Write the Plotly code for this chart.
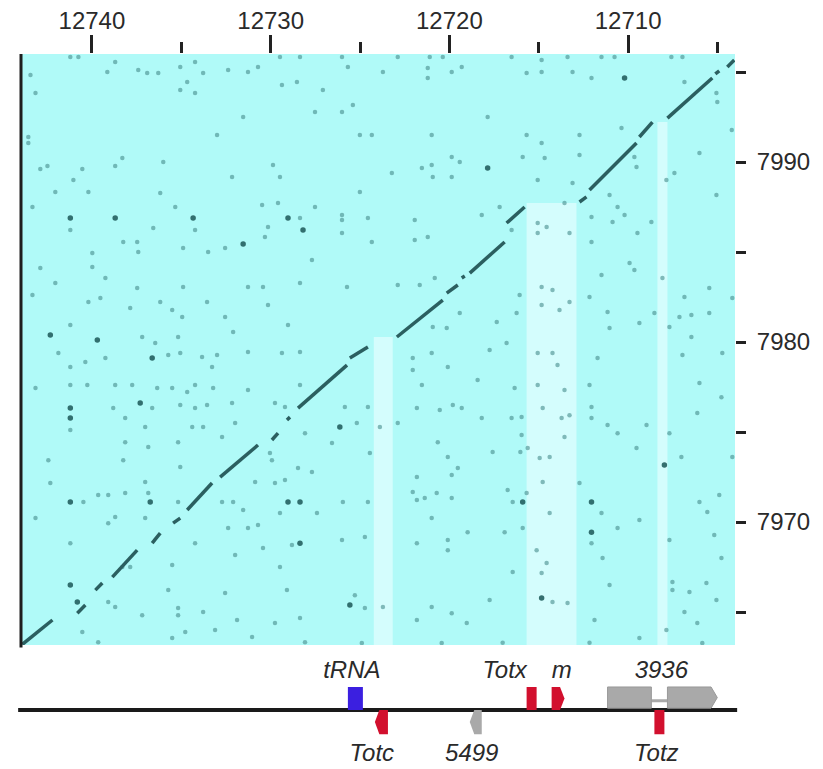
import plotly.graph_objects as go

# ---------------- data ----------------
x_ticks = [12740, 12730, 12720, 12710]
x_minor = [12735, 12725, 12715, 12705]
y_ticks = [7990, 7980, 7970]
y_minor = [7995, 7985, 7975, 7965]
x_range = [12743.97, 12704.02]
y_range = [7963.17, 7996.0]

# aligned (diagonal) segments: (x0, y0, x1, y1)
diag_segments = [
    (12743.90, 7963.20, 12742.21, 7964.56),
    (12740.82, 7964.94, 12740.37, 7965.39),
    (12739.81, 7966.22, 12739.42, 7966.61),
    (12738.86, 7966.94, 12737.47, 7968.44),
    (12736.63, 7968.83, 12736.18, 7969.39),
    (12735.46, 7969.94, 12735.06, 7970.22),
    (12734.67, 7970.67, 12733.28, 7972.17),
    (12732.83, 7972.50, 12730.71, 7974.28),
    (12729.93, 7974.56, 12729.59, 7974.94),
    (12729.09, 7975.67, 12728.92, 7975.83),
    (12728.47, 7976.33, 12725.73, 7978.72),
    (12725.57, 7979.11, 12724.56, 7979.72),
    (12722.94, 7980.28, 12720.37, 7982.33),
    (12720.15, 7982.72, 12719.53, 7983.17),
    (12719.31, 7983.56, 12719.14, 7983.67),
    (12718.86, 7983.83, 12716.91, 7985.56),
    (12716.80, 7986.61, 12715.79, 7987.50),
    (12712.72, 7987.78, 12712.33, 7988.06),
    (12712.16, 7988.44, 12709.53, 7991.06),
    (12709.37, 7991.39, 12708.64, 7992.22),
    (12707.80, 7992.44, 12705.29, 7994.67),
    (12705.12, 7994.89, 12704.90, 7995.06),
    (12704.45, 7995.28, 12704.06, 7995.67),
]

# strong isolated matches
dark_dots = [
    (12741.21, 7986.89), (12738.70, 7986.89), (12734.34, 7986.89), (12731.54, 7985.44),
    (12717.86, 7989.67), (12729.03, 7986.89), (12728.19, 7986.22), (12710.20, 7994.67),
    (12742.33, 7980.39), (12739.70, 7980.11), (12736.63, 7979.11), (12741.21, 7976.33),
    (12741.21, 7975.78), (12737.30, 7976.61), (12726.13, 7975.28), (12741.21, 7971.11),
    (12736.74, 7971.11), (12729.03, 7971.11), (12728.36, 7971.11), (12728.36, 7968.83),
    (12741.21, 7966.50), (12740.82, 7965.56), (12725.57, 7965.39), (12707.97, 7973.17),
    (12715.90, 7971.11), (12712.05, 7971.11), (12712.05, 7969.44), (12714.84, 7965.78),
]

# weak scattered matches
faint_dots = [
    (12741.21, 7995.83), (12740.76, 7995.83), (12738.70, 7995.56), (12739.14, 7995.00),
    (12737.41, 7995.11), (12736.91, 7994.94), (12736.29, 7994.94), (12735.06, 7995.28),
    (12734.23, 7995.56), (12733.78, 7994.94), (12734.67, 7994.44), (12735.06, 7994.00),
    (12734.23, 7993.83), (12732.38, 7995.11), (12731.27, 7995.00), (12730.71, 7995.28),
    (12743.16, 7993.83), (12743.44, 7994.83), (12731.54, 7992.50), (12733.00, 7991.50),
    (12743.56, 7991.39), (12743.56, 7991.06), (12738.30, 7990.22), (12738.70, 7989.78),
    (12742.49, 7989.78), (12742.89, 7989.61), (12740.54, 7989.61), (12741.04, 7989.00),
    (12736.01, 7990.00), (12732.16, 7989.17), (12742.05, 7988.33), (12740.20, 7988.33),
    (12736.18, 7988.28), (12735.34, 7987.50), (12743.33, 7987.50), (12741.21, 7986.22),
    (12736.57, 7986.33), (12734.23, 7986.22), (12730.48, 7987.61), (12730.15, 7986.39),
    (12730.32, 7985.83), (12738.25, 7985.56), (12737.47, 7985.56), (12739.98, 7984.94),
    (12737.41, 7985.00), (12734.90, 7985.22), (12733.50, 7985.00), (12732.55, 7985.22),
    (12742.89, 7984.11), (12739.98, 7984.17), (12739.25, 7983.56), (12742.05, 7983.28),
    (12737.47, 7983.00), (12734.90, 7983.06), (12731.27, 7983.06), (12730.43, 7983.06),
    (12743.33, 7982.61), (12740.20, 7982.22), (12739.53, 7982.44), (12736.18, 7982.22),
    (12733.56, 7982.22),
    (12729.48, 7995.83), (12728.36, 7995.83), (12726.01, 7995.83), (12725.68, 7995.28),
    (12722.89, 7995.83), (12721.10, 7995.83), (12720.37, 7995.83), (12716.52, 7995.83),
    (12723.72, 7995.00), (12721.21, 7995.22), (12719.87, 7995.00), (12719.31, 7995.28),
    (12715.68, 7994.94), (12729.37, 7994.28), (12728.53, 7994.44), (12727.08, 7994.00),
    (12721.21, 7994.67), (12727.52, 7992.78), (12726.01, 7992.78), (12725.40, 7993.17),
    (12717.86, 7992.50), (12725.01, 7991.50), (12724.34, 7991.50), (12720.99, 7991.50),
    (12715.68, 7991.50), (12729.87, 7989.83), (12729.48, 7989.17), (12723.22, 7989.39),
    (12721.54, 7989.67), (12720.99, 7989.83), (12719.87, 7990.28), (12719.42, 7990.00),
    (12720.93, 7989.17), (12719.87, 7989.17), (12715.90, 7990.28), (12725.01, 7988.33),
    (12729.59, 7987.72), (12727.52, 7987.50), (12728.36, 7986.89), (12726.01, 7987.06),
    (12726.01, 7986.78), (12724.56, 7986.89), (12721.94, 7986.78), (12718.19, 7987.06),
    (12717.19, 7987.50), (12726.01, 7986.06), (12724.34, 7985.56), (12721.94, 7985.67),
    (12721.21, 7985.83), (12716.52, 7986.22), (12727.69, 7984.56), (12728.36, 7983.28),
    (12725.73, 7983.06), (12722.89, 7983.17), (12721.66, 7983.17), (12720.82, 7983.56),
    (12716.07, 7982.61),
    (12714.84, 7995.67), (12714.84, 7995.00), (12713.39, 7995.83), (12711.49, 7995.83),
    (12710.76, 7995.83), (12707.58, 7995.83), (12706.96, 7995.83), (12713.11, 7995.00),
    (12712.05, 7994.67), (12706.85, 7994.44), (12705.06, 7993.83), (12705.01, 7993.33),
    (12712.72, 7991.50), (12710.37, 7991.89), (12714.84, 7991.06), (12714.67, 7990.22),
    (12712.72, 7990.39), (12709.65, 7990.28), (12709.53, 7989.72), (12706.01, 7990.50),
    (12704.20, 7991.78), (12715.06, 7989.00), (12713.11, 7988.83), (12707.41, 7989.39),
    (12707.86, 7989.00), (12711.04, 7988.17), (12713.56, 7987.72), (12705.06, 7988.17),
    (12712.05, 7986.94), (12710.59, 7987.50), (12710.20, 7987.06), (12710.87, 7986.67),
    (12708.70, 7986.67), (12709.48, 7986.06), (12715.06, 7986.61), (12714.56, 7986.39),
    (12715.06, 7986.06), (12713.28, 7986.06), (12712.05, 7985.56), (12709.92, 7984.39),
    (12709.65, 7984.00), (12711.49, 7983.72), (12708.08, 7983.56), (12714.84, 7983.06),
    (12714.23, 7982.89), (12712.16, 7982.50), (12706.85, 7982.50), (12713.28, 7982.22),
    (12705.46, 7983.00), (12704.17, 7982.44),
    (12741.21, 7980.94), (12737.19, 7980.28), (12736.46, 7979.94), (12735.18, 7980.28),
    (12734.95, 7981.39), (12735.51, 7981.78), (12737.86, 7981.89), (12730.15, 7982.06),
    (12729.03, 7980.94), (12732.55, 7981.39), (12732.10, 7980.56), (12741.88, 7979.39),
    (12740.37, 7978.89), (12739.25, 7979.11), (12741.21, 7978.61), (12735.73, 7979.28),
    (12735.06, 7979.39), (12733.84, 7979.17), (12733.00, 7979.28), (12731.27, 7979.44),
    (12729.37, 7979.39), (12728.36, 7979.44), (12733.28, 7978.61), (12743.16, 7977.44),
    (12741.21, 7977.61), (12740.26, 7977.61), (12738.70, 7977.61), (12737.75, 7977.61),
    (12736.35, 7977.44), (12735.51, 7977.44), (12734.67, 7977.22), (12734.23, 7977.61),
    (12733.22, 7977.44), (12731.27, 7977.33), (12728.36, 7977.61), (12741.21, 7975.11),
    (12738.81, 7976.33), (12736.63, 7976.33), (12735.06, 7976.50), (12734.23, 7976.33),
    (12733.56, 7976.50), (12732.16, 7976.61), (12729.76, 7976.61), (12729.20, 7976.39),
    (12738.14, 7975.78), (12737.02, 7975.28), (12734.39, 7975.28), (12733.78, 7975.28),
    (12731.99, 7975.50), (12725.85, 7976.39), (12725.18, 7975.50), (12724.56, 7976.39),
    (12738.14, 7974.44), (12736.85, 7974.17), (12735.18, 7974.44), (12732.72, 7974.72),
    (12728.08, 7974.94), (12726.57, 7974.39), (12742.44, 7973.44), (12738.25, 7973.44),
    (12735.06, 7973.06), (12730.04, 7973.83), (12729.93, 7973.44), (12728.47, 7973.00),
    (12727.69, 7972.78), (12724.45, 7973.83), (12742.33, 7972.17), (12737.02, 7972.22),
    (12730.87, 7972.22), (12729.76, 7972.17), (12729.20, 7972.33), (12740.48, 7971.11),
    (12739.65, 7971.50), (12739.09, 7971.50), (12738.14, 7971.61), (12736.85, 7971.61),
    (12735.18, 7971.11), (12732.72, 7971.11), (12732.10, 7971.11), (12725.96, 7971.11),
    (12724.56, 7971.11), (12743.16, 7970.22), (12738.70, 7970.28), (12737.02, 7970.22),
    (12731.54, 7970.67), (12729.48, 7970.50), (12727.41, 7970.50), (12739.09, 7969.94),
    (12732.38, 7969.67), (12731.27, 7969.67), (12730.71, 7969.83), (12741.21, 7968.83),
    (12734.23, 7968.83), (12731.99, 7968.17), (12730.43, 7968.56), (12728.81, 7968.72),
    (12726.01, 7969.00), (12724.73, 7969.17), (12735.51, 7967.61), (12738.30, 7967.50),
    (12737.86, 7967.50), (12729.48, 7967.50), (12735.73, 7966.22), (12732.55, 7966.06),
    (12729.09, 7966.22), (12725.29, 7965.94), (12739.09, 7965.56), (12738.70, 7965.28),
    (12735.18, 7965.22), (12735.18, 7964.83), (12737.19, 7964.83), (12733.78, 7965.00),
    (12731.88, 7964.56), (12729.76, 7964.39), (12728.36, 7964.67), (12724.73, 7965.22),
    (12740.54, 7963.89), (12739.65, 7963.33), (12735.51, 7963.56), (12734.78, 7963.89),
    (12733.11, 7964.00), (12731.04, 7963.61), (12728.08, 7963.33), (12724.90, 7963.28),
    (12719.42, 7981.61), (12717.35, 7981.11), (12716.24, 7981.61), (12714.84, 7982.06),
    (12713.84, 7981.78), (12711.15, 7981.67), (12711.04, 7980.78), (12709.37, 7981.06),
    (12708.53, 7981.61), (12707.13, 7981.39), (12706.46, 7981.50), (12705.46, 7981.61),
    (12707.69, 7980.83), (12720.93, 7980.83), (12720.15, 7980.78), (12716.80, 7979.94),
    (12717.75, 7979.56), (12720.99, 7979.39), (12722.05, 7979.11), (12722.05, 7978.44),
    (12720.09, 7978.61), (12715.06, 7979.39), (12714.23, 7979.39), (12713.95, 7978.72),
    (12711.71, 7979.11), (12706.96, 7979.28), (12706.46, 7980.28), (12704.73, 7979.39),
    (12721.54, 7977.61), (12718.42, 7977.89), (12716.35, 7977.44), (12715.06, 7977.61),
    (12713.56, 7977.33), (12712.16, 7977.61), (12706.01, 7977.72), (12721.82, 7976.33),
    (12720.54, 7976.22), (12719.81, 7976.50), (12719.31, 7976.33), (12718.19, 7975.78),
    (12716.52, 7975.78), (12715.96, 7975.83), (12714.78, 7976.33), (12713.72, 7975.78),
    (12713.28, 7975.94), (12712.05, 7976.39), (12712.05, 7975.78), (12711.15, 7975.39),
    (12710.59, 7974.94), (12708.97, 7975.39), (12706.13, 7976.06), (12704.78, 7976.94),
    (12722.89, 7975.50), (12723.89, 7975.28), (12720.65, 7974.44), (12715.96, 7974.83),
    (12713.56, 7974.72), (12709.53, 7974.11), (12707.69, 7974.94), (12720.09, 7973.61),
    (12719.53, 7973.00), (12717.58, 7973.89), (12716.03, 7973.89), (12715.62, 7974.11),
    (12714.95, 7973.56), (12714.39, 7973.61), (12707.02, 7973.61), (12704.17, 7973.61),
    (12721.82, 7972.50), (12719.87, 7972.61), (12722.05, 7971.67), (12721.82, 7971.22),
    (12721.38, 7971.33), (12720.71, 7971.61), (12719.87, 7971.33), (12716.74, 7971.78),
    (12716.46, 7971.11), (12715.68, 7971.61), (12714.78, 7972.22), (12712.72, 7972.17),
    (12711.49, 7970.50), (12714.39, 7970.50), (12709.37, 7970.11), (12706.01, 7971.11),
    (12704.90, 7971.50), (12705.57, 7970.56), (12720.99, 7970.22), (12718.98, 7969.44),
    (12716.91, 7969.44), (12715.90, 7969.67), (12710.59, 7969.67), (12707.69, 7969.00),
    (12705.18, 7969.28), (12721.82, 7968.83), (12720.09, 7969.00), (12720.09, 7968.44),
    (12712.05, 7968.83), (12715.12, 7968.44), (12714.56, 7967.72), (12711.43, 7968.00),
    (12716.46, 7967.22), (12714.84, 7967.17), (12711.04, 7966.50), (12707.52, 7966.67),
    (12704.78, 7968.00), (12706.57, 7966.11), (12707.52, 7966.22), (12705.06, 7965.67),
    (12705.62, 7966.61), (12717.75, 7965.67), (12714.23, 7965.56), (12713.39, 7965.50),
    (12720.99, 7965.28), (12719.87, 7964.94), (12719.03, 7964.39), (12721.82, 7964.56),
    (12723.72, 7965.28), (12711.88, 7964.56), (12707.86, 7964.00), (12706.85, 7965.00),
    (12706.13, 7964.39), (12709.37, 7963.56), (12720.43, 7963.28), (12717.02, 7963.30),
    (12712.16, 7963.30), (12705.85, 7963.28),
]

# inserted regions with no match (pale stripes): x_start, x_end, top y
stripe_x0 = [12724.23, 12715.68, 12708.36]
stripe_x1 = [12723.17, 12712.89, 12707.80]
stripe_top = [7980.28, 7987.72, 7992.22]

# gene annotation track
feat_names = ["tRNA", "Totc", "5499", "Totx", "m", "3936", "Totz"]
feat_start = [12725.68, 12724.17, 12718.86, 12715.68, 12714.28, 12711.15, 12708.53]
feat_end = [12724.84, 12723.44, 12718.19, 12715.12, 12713.56, 12705.01, 12707.97]
feat_strand = [1, -1, -1, 1, 1, 1, -1]
feat_arrow = ["", "left", "left", "", "right", "right", ""]
feat_color = ["#3b1fe0", "#d2102e", "#a9a9a9", "#d2102e", "#d2102e", "#a9a9a9", "#d2102e"]
label_x = [12725.46, 12724.34, 12718.75, 12716.91, 12713.72, 12708.14, 12708.42]
exons_3936 = [(12711.15, 12708.70), (12707.80, 12705.01)]

# ---------------- figure ----------------
# the page body adds an 8 px margin, so the figure is 8 px smaller each way
W, H = 815, 761
fig = go.Figure()

dx, dy = [], []
for x0, y0, x1, y1 in diag_segments:
    dx += [x0, x1, None]
    dy += [y0, y1, None]

fig.add_trace(go.Scatter(
    x=[p[0] for p in faint_dots], y=[p[1] for p in faint_dots], mode="markers",
    marker=dict(size=4.5, color="rgba(70,140,140,0.6)", line=dict(width=0)),
    hoverinfo="skip", showlegend=False))
fig.add_trace(go.Scatter(
    x=[p[0] for p in dark_dots], y=[p[1] for p in dark_dots], mode="markers",
    marker=dict(size=5.5, color="rgba(35,95,95,0.9)", line=dict(width=0)),
    hoverinfo="skip", showlegend=False))
fig.add_trace(go.Scatter(
    x=dx, y=dy, mode="lines", line=dict(color="#2b5f60", width=3.5),
    hoverinfo="skip", showlegend=False, connectgaps=False))

ABOVE_LABEL, BELOW_LABEL = 1.65, -1.96
fig.add_trace(go.Scatter(
    x=label_x, y=[ABOVE_LABEL if s > 0 else BELOW_LABEL for s in feat_strand],
    xaxis="x", yaxis="y2", mode="text", text=feat_names,
    textfont=dict(family="Liberation Sans, Arial, sans-serif", size=24, color="#2a2a2a", style="italic"),
    hoverinfo="skip", showlegend=False))

shapes = []
shapes.append(dict(type="rect", xref="x domain", yref="y domain", x0=0, x1=1, y0=0, y1=1,
                   fillcolor="#b0faf8", line=dict(width=0), layer="below"))
for x0, x1, top in zip(stripe_x0, stripe_x1, stripe_top):
    shapes.append(dict(type="rect", xref="x", yref="y", x0=x0, x1=x1, y0=y_range[0], y1=top,
                       fillcolor="#d4fdfd", line=dict(width=0), layer="below"))
shapes.append(dict(type="line", xref="x domain", yref="y domain", x0=0, x1=0, y0=-0.004, y1=1,
                   line=dict(color="#1e1e1e", width=3)))
shapes.append(dict(type="line", xref="x domain", yref="y2", x0=-0.004, x1=1.003, y0=0, y1=0,
                   line=dict(color="#1a1a1a", width=4)))

TIP = 0.25
for name, s, e, strand, arrow, col in zip(feat_names, feat_start, feat_end, feat_strand,
                                          feat_arrow, feat_color):
    if name == "3936":
        continue
    y0, y1 = (0.0, 1.0) if strand > 0 else (-1.05, 0.0)
    ym = (y0 + y1) / 2
    if arrow == "left":
        path = f"M{s},{ym} L{s - TIP},{y1} L{e},{y1} L{e},{y0} L{s - TIP},{y0} Z"
    elif arrow == "right":
        path = f"M{s},{y0} L{s},{y1} L{e + TIP},{y1} L{e},{ym} L{e + TIP},{y0} Z"
    else:
        path = f"M{s},{y0} L{s},{y1} L{e},{y1} L{e},{y0} Z"
    shapes.append(dict(type="path", xref="x", yref="y2", path=path,
                       fillcolor=col, line=dict(width=0), layer="above"))

(a0, a1), (b0, b1) = exons_3936
shapes.append(dict(type="line", xref="x", yref="y2", x0=a1, x1=b0, y0=0.4, y1=0.4,
                   line=dict(color="#a9a9a9", width=3), layer="above"))
shapes.append(dict(type="rect", xref="x", yref="y2", x0=a0, x1=a1, y0=0.08, y1=1.0,
                   fillcolor="#a9a9a9", line=dict(color="#999999", width=1), layer="above"))
shapes.append(dict(type="path", xref="x", yref="y2",
                   path=f"M{b0},0.08 L{b0},1.0 L{b1 + 0.35},1.0 L{b1},0.54 L{b1 + 0.35},0.08 Z",
                   fillcolor="#a9a9a9", line=dict(color="#999999", width=1), layer="above"))

tickfont = dict(family="Liberation Sans, Arial, sans-serif", size=24, color="#2a2a2a")
fig.update_layout(
    width=W, height=H,
    margin=dict(l=13, r=88, t=46, b=0, autoexpand=False),
    paper_bgcolor="white", plot_bgcolor="white",
    shapes=shapes,
    xaxis=dict(side="top", range=x_range, tickmode="array", tickvals=x_ticks,
               ticktext=[str(v) for v in x_ticks], ticks="outside", ticklen=18, tickwidth=3,
               tickcolor="#222", showgrid=False, zeroline=False, showline=False,
               tickfont=tickfont, anchor="y", ticklabelstandoff=-4,
               minor=dict(tickmode="array", tickvals=x_minor, ticks="outside", ticklen=11,
                          tickwidth=3, tickcolor="#222", showgrid=False)),
    yaxis=dict(side="right", domain=[0.1734, 1], range=y_range, tickmode="array",
               tickvals=y_ticks, ticktext=[str(v) for v in y_ticks], ticks="outside",
               ticklen=10, tickwidth=3, tickcolor="#222", showgrid=False, zeroline=False,
               showline=False, tickfont=tickfont, ticklabelstandoff=6,
               minor=dict(tickmode="array", tickvals=y_minor, ticks="outside", ticklen=10,
                          tickwidth=3, tickcolor="#222", showgrid=False)),
    yaxis2=dict(domain=[0, 0.155], range=[-2.565, 2.252], anchor="x", visible=False,
                showgrid=False, zeroline=False),
)

fig.write_html("out.html")
